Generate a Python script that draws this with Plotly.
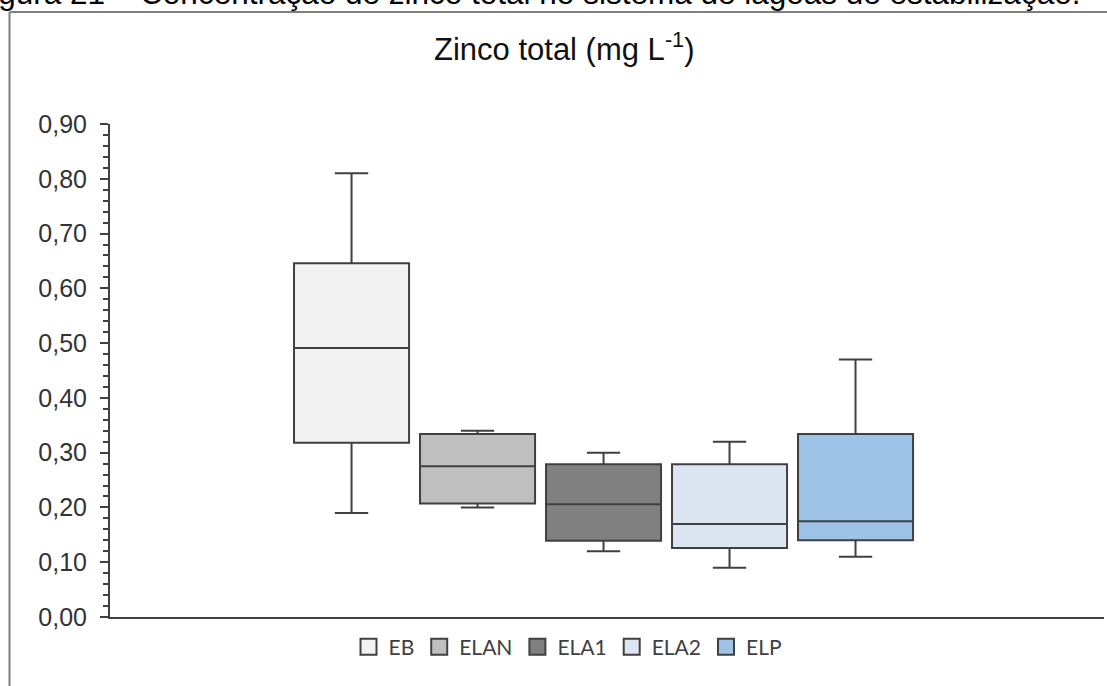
import plotly.graph_objects as go

# ---- data ----
stations = ["EB", "ELAN", "ELA1", "ELA2", "ELP"]
positions = [0, 1, 2, 3, 4]
minimum = [0.19, 0.20, 0.12, 0.09, 0.11]
q1 = [0.318, 0.207, 0.139, 0.126, 0.140]
median = [0.491, 0.275, 0.206, 0.170, 0.175]
q3 = [0.646, 0.334, 0.279, 0.279, 0.334]
maximum = [0.81, 0.34, 0.30, 0.32, 0.47]
fills = ["#F2F2F2", "#BFBFBF", "#808080", "#DCE6F2", "#9DC3E6"]
ytick_vals = [0.0, 0.1, 0.2, 0.3, 0.4, 0.5, 0.6, 0.7, 0.8, 0.9]
ytick_text = ["0,00", "0,10", "0,20", "0,30", "0,40", "0,50", "0,60", "0,70", "0,80", "0,90"]

W, H = 1107, 686
L, R, T, B = 110, 3, 124, 69
PW, PH = W - L - R, H - T - B


def px(xp):
    return (xp - L) / PW


def py(yp):
    return (H - B - yp) / PH


LINE = "#404040"
fig = go.Figure()
for i, name in enumerate(stations):
    fig.add_trace(go.Box(
        x=[positions[i]], q1=[q1[i]], median=[median[i]], q3=[q3[i]],
        lowerfence=[minimum[i]], upperfence=[maximum[i]],
        name=name, fillcolor=fills[i],
        line=dict(color=LINE, width=2),
        width=0.913, whiskerwidth=0.29, boxpoints=False,
        showlegend=False, hoverinfo="skip",
    ))
    fig.add_trace(go.Scatter(
        x=[None], y=[None], mode="markers", name=name,
        marker=dict(symbol="square", size=16, color=fills[i],
                    line=dict(color=LINE, width=2)),
        showlegend=True, hoverinfo="skip",
    ))

fig.update_layout(
    width=W, height=H,
    margin=dict(l=L, r=R, t=T, b=B),
    paper_bgcolor="white", plot_bgcolor="white",
    boxmode="overlay",
    showlegend=True,
    legend=dict(orientation="h", x=px(568), y=py(647), xanchor="center", yanchor="middle",
                font=dict(family="Lato", size=21, color=LINE),
                itemsizing="trace", bgcolor="rgba(0,0,0,0)"),
    xaxis=dict(range=[-1.917, 5.972], showline=True, linecolor=LINE, linewidth=2,
               showticklabels=False, ticks="", showgrid=False, zeroline=False, fixedrange=True),
    yaxis=dict(range=[0, 0.9], showline=True, linecolor=LINE, linewidth=2,
               tickvals=ytick_vals, ticktext=ytick_text, ticks="outside", ticklen=8,
               tickwidth=2, tickcolor=LINE, ticklabelstandoff=8,
               minor=dict(dtick=0.02, ticks="outside", ticklen=5, tickwidth=1.5, tickcolor=LINE),
               tickfont=dict(family="Liberation Sans", size=25, color="#333333"),
               showgrid=False, zeroline=False, fixedrange=True),
    font=dict(family="Liberation Sans"),
)

fig.add_annotation(
    text="Zinco total (mg L<sup>-1</sup>)", xref="paper", yref="paper",
    x=px(564), y=py(47), xanchor="center", yanchor="middle", showarrow=False,
    font=dict(family="Liberation Sans", size=31, color="#111111"),
)
fig.add_annotation(
    text="Figura 21 – Concentração de zinco total no sistema de lagoas de estabilização.",
    xref="paper", yref="paper", x=px(1082), y=py(-7), xanchor="right", yanchor="middle",
    showarrow=False, font=dict(family="Liberation Sans", size=31.5, color="black"),
)
# outer frame (left and top edges)
fig.add_shape(type="line", xref="paper", yref="paper", x0=px(9.5), x1=px(9.5), y0=py(12), y1=py(700),
              line=dict(color="#7F7F7F", width=2))
fig.add_shape(type="line", xref="paper", yref="paper", x0=px(9.5), x1=px(1110), y0=py(12), y1=py(12),
              line=dict(color="#7F7F7F", width=2))

fig.write_html("out.html")
